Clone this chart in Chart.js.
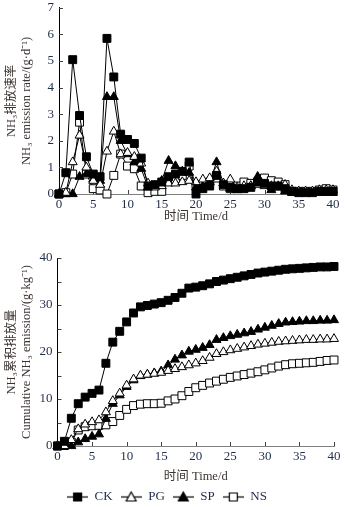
<!DOCTYPE html>
<html>
<head>
<meta charset="utf-8">
<script src="https://cdn.jsdelivr.net/npm/chart.js@4.4.1/dist/chart.umd.min.js"></script>
<style>
  body { margin: 0; background: #fff; width: 345px; height: 507px; overflow: hidden; position: relative; }
  .box { position: absolute; left: 0; width: 345px; }
</style>
</head>
<body>
<div class="box" style="top:-5px;height:231px"><canvas id="rateChart"></canvas></div>
<div class="box" style="top:230px;height:277px"><canvas id="cumChart"></canvas></div>
<script>
const days = [0, 1, 2, 3, 4, 5, 6, 7, 8, 9, 10, 11, 12, 13, 14, 15, 16, 17, 18, 19, 20,
  21, 22, 23, 24, 25, 26, 27, 28, 29, 30, 31, 32, 33, 34, 35, 36, 37, 38, 39, 40];
const treatments = ["CK", "PG", "SP", "NS"];

// NH3 emission rate, g/d
const rateCK = [0, 0.8, 5.05, 2.95, 1.4, 0.75, 0.65, 5.85, 4.4, 2.25, 2.05, 1.9, 1.35, 0.3, 0.35,
  0.45, 0.65, 0.75, 0.85, 1.2, 0.0, 0.2, 0.3, 0.7, 0.35, 0.25, 0.2, 0.2, 0.25, 0.45, 0.4,
  0.3, 0.3, 0.2, 0.1, 0.05, 0.05, 0.05, 0.1, 0.1, 0.1];
const ratePG = [0, 0.05, 1.2, 2.2, 1.0, 0.5, 0.35, 1.6, 2.35, 1.5, 1.55, 1.4, 1.15, 0.4, 0.25,
  0.3, 0.4, 0.4, 0.45, 0.5, 0.45, 0.55, 0.6, 0.85, 0.4, 0.55, 0.25, 0.3, 0.3, 0.35, 0.3,
  0.3, 0.3, 0.35, 0.15, 0.1, 0.1, 0.1, 0.15, 0.15, 0.15];
const rateSP = [0, 0, 0, 0.65, 0.75, 0.55, 0.5, 3.65, 3.65, 2.0, 1.5, 1.2, 0.95, 0.25, 0.3,
  0.5, 1.25, 1.05, 0.85, 0.8, 0.25, 0.3, 0.45, 1.2, 0.4, 0.2, 0.15, 0.2, 0.3, 0.65, 0.35,
  0.15, 0.25, 0.1, 0.05, 0.05, 0.05, 0.05, 0.05, 0.05, 0.05];
const rateNS = [0, 0.05, 0.75, 2.7, 0.75, 0.2, 0.15, 0.0, 0.7, 1.5, 1.05, 0.95, 0.3, 0.05, 0.1,
  0.1, 0.5, 0.55, 0.7, 1.05, 0.35, 0.35, 0.45, 0.6, 0.3, 0.2, 0.3, 0.45, 0.4, 0.45, 0.6,
  0.5, 0.45, 0.35, 0.1, 0.1, 0.1, 0.1, 0.15, 0.2, 0.15];

// cumulative NH3 emission, g/kg
const cumCK = [0, 1.0, 5.9, 9.0, 10.4, 11.2, 11.9, 17.6, 22.1, 24.4, 26.4, 28.3, 29.6, 29.9, 30.2,
  30.5, 31.0, 31.6, 32.5, 33.6, 33.8, 34.1, 34.5, 35.0, 35.3, 35.6, 35.9, 36.2, 36.5, 36.8, 37.0,
  37.2, 37.4, 37.6, 37.7, 37.8, 37.9, 38.0, 38.1, 38.1, 38.2];
const cumPG = [0, 0, 1.3, 3.6, 4.6, 5.1, 5.5, 7.2, 9.6, 11.2, 12.9, 14.2, 15.0, 15.2, 15.4,
  15.6, 16.0, 16.4, 16.8, 17.2, 17.6, 18.1, 18.8, 19.6, 20.0, 20.4, 20.7, 21.0, 21.3, 21.6, 21.8,
  22.0, 22.2, 22.3, 22.4, 22.5, 22.6, 22.6, 22.7, 22.7, 22.8];
const cumSP = [0, 0, 0, 0.8, 1.5, 2.0, 2.5, 5.8, 9.0, 10.8, 12.6, 14.0, 14.9, 15.2, 15.5,
  15.9, 17.2, 18.4, 19.3, 20.1, 20.5, 20.9, 21.5, 22.6, 23.0, 23.4, 23.7, 24.0, 24.3, 24.8, 25.2,
  25.6, 26.0, 26.3, 26.4, 26.5, 26.6, 26.6, 26.7, 26.7, 26.8];
const cumNS = [0, 0.1, 0.8, 3.4, 4.1, 4.3, 4.4, 4.5, 5.2, 6.5, 7.8, 8.6, 8.9, 9.0, 9.0,
  9.1, 9.6, 10.0, 10.7, 11.6, 12.4, 12.9, 13.4, 13.8, 14.2, 14.6, 14.9, 15.2, 15.5, 15.8, 16.2,
  16.6, 17.0, 17.3, 17.5, 17.6, 17.7, 17.8, 18.0, 18.2, 18.3];

const FONT = '"Liberation Serif", "Noto Sans CJK SC", serif';
const TICK_COLOR = "#1f2b48";
const TITLE_COLOR = "#3b3330";

// marker look for each treatment: shape + filled or open
const markers = {
  CK: { style: "rect", fill: "#000", r: 5.6 },
  PG: { style: "triangle", fill: "#fff", r: 5.2 },
  SP: { style: "triangle", fill: "#000", r: 5.2 },
  NS: { style: "rect", fill: "#fff", r: 5.6 }
};

// little line-marker-line icons for the legend
function legendIcon(name) {
  const m = markers[name];
  const c = document.createElement("canvas");
  c.width = 21; c.height = 12;
  const g = c.getContext("2d");
  g.strokeStyle = "#000"; g.lineWidth = 1.2;
  g.beginPath(); g.moveTo(0, 6.5); g.lineTo(21, 6.5); g.stroke();
  g.fillStyle = m.fill;
  g.beginPath();
  if (m.style === "rect") {
    g.rect(6.5, 2.5, 8, 8);
  } else {
    g.moveTo(10.5, 1.5); g.lineTo(15.5, 10.5); g.lineTo(5.5, 10.5); g.closePath();
  }
  g.fill(); g.stroke();
  return c;
}

// short inward tick marks on both axes
const inwardTicks = {
  id: "inwardTicks",
  beforeDatasetsDraw(chart, args, opts) {
    const { ctx, chartArea: a, scales: { x, y } } = chart;
    ctx.save();
    ctx.strokeStyle = "#444";
    ctx.lineWidth = 1;
    ctx.beginPath();
    for (let v = x.min; v <= x.max; v += opts.xStep) {
      const px = Math.round(x.getPixelForValue(v)) + 0.5;
      ctx.moveTo(px, a.bottom); ctx.lineTo(px, a.bottom - 4);
    }
    for (let v = y.min; v <= y.max; v += opts.yStep) {
      const py = Math.round(y.getPixelForValue(v)) + 0.5;
      ctx.moveTo(a.left, py); ctx.lineTo(a.left + 4, py);
    }
    ctx.stroke();
    ctx.restore();
  }
};

function makeDatasets(series) {
  return treatments.map((name, i) => ({
    label: name,
    data: days.map((d, j) => ({ x: d, y: series[i][j] })),
    borderColor: "#000",
    borderWidth: 1,
    tension: 0,
    pointStyle: markers[name].style,
    pointRadius: markers[name].r,
    pointBackgroundColor: markers[name].fill,
    pointBorderColor: "#000",
    pointBorderWidth: 1,
    clip: false
  }));
}

function makeOptions(cfg) {
  return {
    responsive: true,
    maintainAspectRatio: false,
    animation: false,
    layout: { padding: cfg.padding },
    plugins: {
      legend: cfg.legend,
      tooltip: { enabled: false },
      inwardTicks: { xStep: 5, yStep: cfg.yMinor }
    },
    scales: {
      x: {
        type: "linear", min: 0, max: 40,
        grid: { display: false, drawTicks: false },
        border: { color: "#808080", width: 1 },
        ticks: { stepSize: 5, padding: 3, color: TICK_COLOR, font: { family: FONT, size: 13 } },
        title: { display: true, text: "时间 Time/d", color: TITLE_COLOR,
          padding: { top: 2, bottom: cfg.xTitleBottom },
          font: { family: FONT, size: 12.5 } },
        afterFit: s => { s.height = cfg.xHeight; }
      },
      y: {
        min: 0, max: cfg.yMax,
        grid: { display: false, drawTicks: false },
        border: { color: "#000", width: 1 },
        ticks: { stepSize: cfg.yStep, padding: 5, color: TICK_COLOR, font: { family: FONT, size: 13 } },
        title: { display: true, text: cfg.yTitle, color: TITLE_COLOR, padding: { top: 5, bottom: 0 },
          font: { family: FONT, size: 12.5, lineHeight: 1.15 } },
        afterFit: s => { s.width = cfg.yWidth; }
      }
    }
  };
}

new Chart(document.getElementById("rateChart"), {
  type: "line",
  data: { datasets: makeDatasets([rateCK, ratePG, rateSP, rateNS]) },
  options: makeOptions({
    padding: { top: 0, right: 12, left: 0, bottom: 0 },
    legend: { display: false },
    yMax: 7, yStep: 1, yMinor: 1,
    yTitle: ["NH₃排放速率", "NH₃ emission rate/(g·d⁻¹)"],
    xHeight: 32, yWidth: 59, xTitleBottom: 2
  }),
  plugins: [inwardTicks]
});

new Chart(document.getElementById("cumChart"), {
  type: "line",
  data: { datasets: makeDatasets([cumCK, cumPG, cumSP, cumNS]) },
  options: makeOptions({
    padding: { top: 28, right: 11, left: 0, bottom: -6 },
    legend: {
      display: true,
      position: "bottom",
      labels: {
        usePointStyle: true,
        pointStyleWidth: 21,
        padding: 8,
        color: TICK_COLOR,
        font: { family: FONT, size: 13 },
        generateLabels: chart => Chart.defaults.plugins.legend.labels.generateLabels(chart)
          .map(item => Object.assign(item, { pointStyle: legendIcon(item.text) }))
      }
    },
    yMax: 40, yStep: 10, yMinor: 5,
    yTitle: ["NH₃累积排放量", "Cumulative NH₃ emission/(g·kg⁻¹)"],
    xHeight: 36, yWidth: 57.5, xTitleBottom: -2
  }),
  plugins: [inwardTicks]
});
</script>
</body>
</html>
